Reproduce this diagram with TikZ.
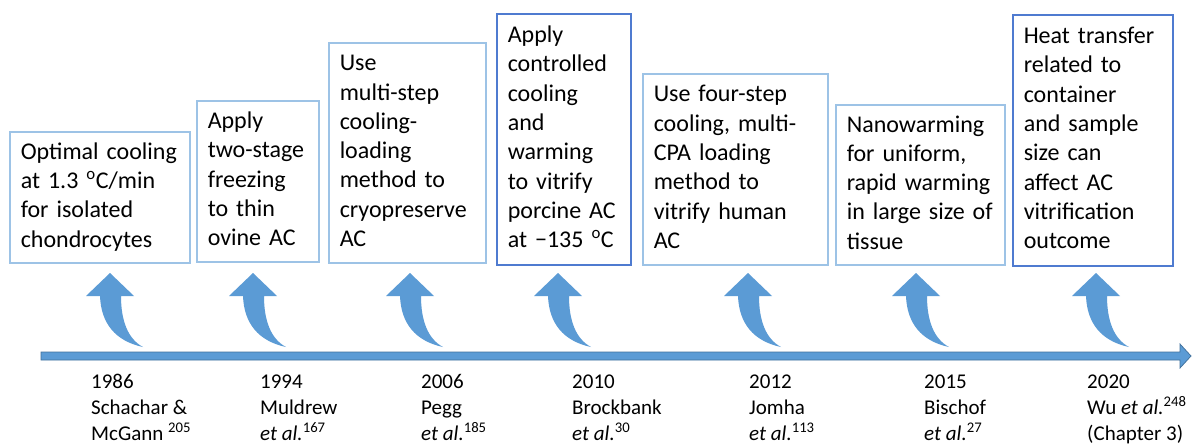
\documentclass[tikz,border=0pt]{standalone}
\usepackage{fontspec}
\setmainfont{Carlito}
\definecolor{arrowblue}{HTML}{5B9BD5}
\definecolor{barborder}{HTML}{41719C}
\definecolor{lightbox}{HTML}{9DC3E6}
\definecolor{darkbox}{HTML}{4F7BD0}
\begin{document}
\begin{tikzpicture}[x=1pt,y=-1pt,
  boxbase/.style={draw, line width=1.5pt, anchor=north west, align=left, inner xsep=11pt, inner ysep=0pt,
    font=\fontsize{24}{29.3}\selectfont, text=black},
  lbox/.style={boxbase, draw=lightbox},
  dbox/.style={boxbase, draw=darkbox},
  yearlabel/.style={anchor=base west, align=left, inner sep=0pt, font=\fontsize{21}{26}\selectfont},
  curvedup/.pic={\fill[arrowblue] (0,0) -- (24,23) -- (11,23) .. controls (11,48) and (18,66) .. (33,74)
     .. controls (5,68) and (-9,50) .. (-10,23) -- (-24,23) -- cycle;}
]
\useasboundingbox[fill=white] (0,0) rectangle (1192,445);

% boxes
\node[lbox, minimum width=180pt, minimum height=131pt, text width=158pt] (b1) at (9,131)
  {\strut Optimal cooling\\at 1.3 \textsuperscript{o}C/min\\for isolated\\chondrocytes\strut};
\node[lbox, minimum width=122pt, minimum height=161pt, text width=100pt] (b2) at (196,100)
  {\strut Apply\\two-stage\\freezing\\to thin\\ovine AC\strut};
\node[lbox, minimum width=157pt, minimum height=220pt, text width=135pt] (b3) at (328,42)
  {\strut Use\\multi-step\\cooling-\\loading\\method to\\cryopreserve\\AC\strut};
\node[dbox, minimum width=134pt, minimum height=251pt, text width=112pt] (b4) at (496,13)
  {\strut Apply\\controlled\\cooling\\and\\warming\\to vitrify\\porcine AC\\at −135 \textsuperscript{o}C\strut};
\node[lbox, minimum width=185pt, minimum height=191pt, text width=163pt] (b5) at (642,73)
  {\strut Use four-step\\cooling, multi-\\CPA loading\\method to\\vitrify human\\AC\strut};
\node[lbox, minimum width=169pt, minimum height=160pt, text width=147pt] (b6) at (835,104)
  {\strut Nanowarming\\for uniform,\\rapid warming\\in large size of\\tissue\strut};
\node[dbox, minimum width=160pt, minimum height=251pt, text width=138pt] (b7) at (1012,14)
  {\strut Heat transfer\\related to\\container\\and sample\\size can\\affect AC\\vitrification\\outcome\strut};

% timeline bar
\filldraw[fill=arrowblue, draw=barborder, line width=0.75pt]
  (41,352) -- (1180,352) -- (1180,344) -- (1191,356) -- (1180,368) -- (1180,360) -- (41,360) -- cycle;

% curved arrows
\pic (a1) at (110,273) {curvedup};
\pic (a2) at (253,273) {curvedup};
\pic (a3) at (410,273) {curvedup};
\pic (a4) at (558,273) {curvedup};
\pic (a5) at (748,273) {curvedup};
\pic (a6) at (916,273) {curvedup};
\pic (a7) at (1096,273) {curvedup};

% labels (base = baseline of last line)
\node[yearlabel] (l1) at (91,440) {1986\\Schachar \&\\McGann \textsuperscript{205}};
\node[yearlabel] (l2) at (260,440) {1994\\Muldrew\\\textit{et al.}\textsuperscript{167}};
\node[yearlabel] (l3) at (421,440) {2006\\Pegg\\\textit{et al.}\textsuperscript{185}};
\node[yearlabel] (l4) at (572,440) {2010\\Brockbank\\\textit{et al.}\textsuperscript{30}};
\node[yearlabel] (l5) at (749,440) {2012\\Jomha\\\textit{et al.}\textsuperscript{113}};
\node[yearlabel] (l6) at (924,440) {2015\\Bischof\\\textit{et al.}\textsuperscript{27}};
\node[yearlabel] (l7) at (1087,440) {2020\\Wu \textit{et al.}\textsuperscript{248}\\(Chapter 3)};
\end{tikzpicture}
\end{document}
